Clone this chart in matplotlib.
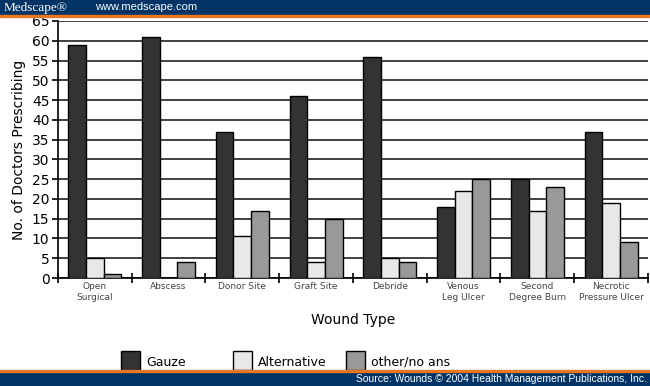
import numpy as np
import matplotlib.pyplot as plt
from matplotlib.patches import Rectangle

wound_types = ['Open\nSurgical', 'Abscess', 'Donor Site', 'Graft Site', 'Debride',
               'Venous\nLeg Ulcer', 'Second\nDegree Burn', 'Necrotic\nPressure Ulcer']
gauze = [59, 61, 37, 46, 56, 18, 25, 37]
alternative = [5, 0, 10.5, 4, 5, 22, 17, 19]
other = [1, 4, 17, 15, 4, 25, 23, 9]
series_names = ['Gauze', 'Alternative', 'other/no ans']
yticks = list(range(0, 70, 5))

colors = ['#333333', '#e8e8e8', '#999999']
navy = '#003366'
orange = '#e87722'
H = 386.0
W = 650.0

fig = plt.figure(figsize=(6.5, 3.86), dpi=100)
ax = fig.add_axes([0.089, 108 / H, 0.908, 257 / H])

x = np.arange(len(wound_types))
w = 0.24
for i, (vals, c) in enumerate(zip([gauze, alternative, other], colors)):
    ax.bar(x + (i - 1) * w, vals, width=w, color=c, edgecolor='black',
           linewidth=1.0, zorder=3)

ax.set_xlim(-0.5, len(wound_types) - 0.5)
ax.set_ylim(0, 65)
ax.set_yticks(yticks)
ax.yaxis.grid(True, color='#404040', linewidth=1.4, zorder=0)
ax.set_axisbelow(True)
for s in ['top', 'right']:
    ax.spines[s].set_visible(False)
ax.spines['left'].set_linewidth(1.2)
ax.spines['bottom'].set_linewidth(1.2)
ax.tick_params(axis='y', labelsize=10, length=4, width=1.2, pad=2)

ax.set_xticks(x)
ax.set_xticklabels(wound_types, fontsize=6.5, color='#444444')
ax.tick_params(axis='x', length=0, pad=3)
ax.set_xticks(np.arange(len(wound_types) + 1) - 0.5, minor=True)
ax.tick_params(axis='x', which='minor', direction='inout', length=7, width=1.2)

ax.set_ylabel('No. of Doctors Prescribing', fontsize=10, labelpad=4)
ax.set_xlabel('Wound Type', fontsize=10, labelpad=8)

# legend drawn by hand to match the fixed spacing
leg_x = [121, 233, 346]
for lx, name, c in zip(leg_x, series_names, colors):
    fig.patches.append(Rectangle((lx / W, 16 / H), 19 / W, 19 / H, transform=fig.transFigure,
                                 facecolor=c, edgecolor='black', linewidth=1.0, zorder=5))
    fig.text((lx + 25) / W, 24 / H, name, fontsize=9, va='center', ha='left')

# header band
fig.patches.append(Rectangle((0, 1 - 15 / H), 1, 15 / H, transform=fig.transFigure,
                             color=navy, zorder=10))
fig.patches.append(Rectangle((0, 1 - 17 / H), 1, 2 / H, transform=fig.transFigure,
                             color=orange, zorder=10))
fig.text(0.005, 1 - 7.5 / H, 'Medscape\u00ae', color='white', fontsize=9.5,
         family='Liberation Serif', va='center', ha='left', zorder=11)
fig.text(0.146, 1 - 7.5 / H, 'www.medscape.com', color='white', fontsize=8,
         family='Liberation Sans', va='center', ha='left', zorder=11)

# footer band
fig.patches.append(Rectangle((0, 0), 1, 14 / H, transform=fig.transFigure,
                             color=navy, zorder=10))
fig.patches.append(Rectangle((0, 14 / H), 1, 2 / H, transform=fig.transFigure,
                             color=orange, zorder=10))
fig.text(0.995, 7 / H, 'Source: Wounds \u00a9 2004 Health Management Publications, Inc.',
         color='white', fontsize=7.5, family='Liberation Sans', va='center', ha='right',
         zorder=11)

fig.savefig('out.png', dpi=100)
